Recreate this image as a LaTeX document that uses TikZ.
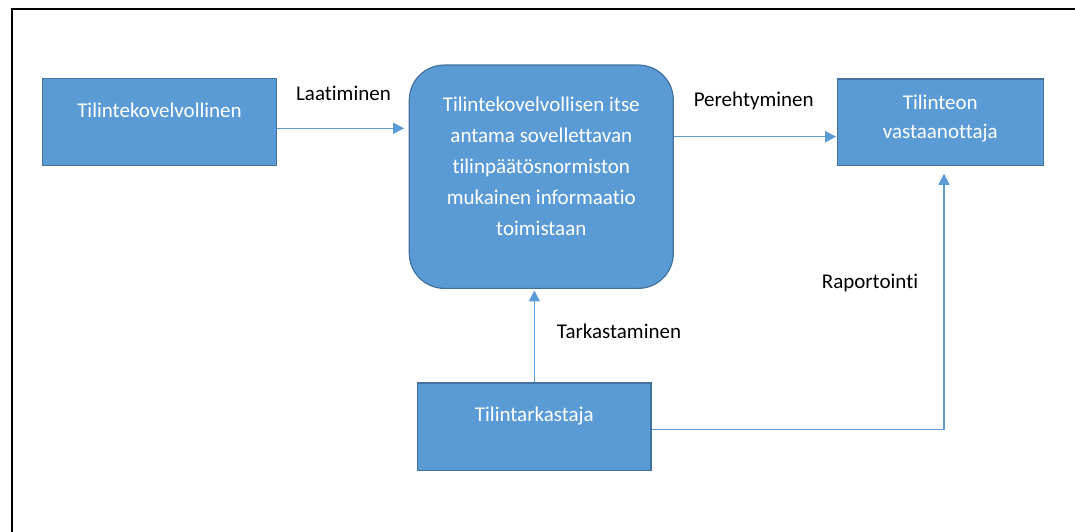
\documentclass[tikz,border=0pt]{standalone}
\usepackage{fontspec}
\setmainfont{Carlito}[Ligatures={NoCommon}]
\usetikzlibrary{arrows.meta}

\definecolor{boxfill}{HTML}{5B9BD5}
\definecolor{boxedge}{HTML}{41719C}
\definecolor{flow}{HTML}{5B9BD5}

% multi-line box text; baseline of the node text is the first line
\newcommand{\boxlines}[1]{\begin{tabular}[t]{@{}c@{}}#1\end{tabular}}

\begin{document}
\begin{tikzpicture}[x=1pt,y=-1pt,
  box/.style={draw=boxedge, fill=boxfill, line width=1.2pt, text=white,
              inner sep=0pt, font=\fontsize{21}{29}\selectfont},
  roundbox/.style={box, rounded corners=35pt, font=\fontsize{21}{31}\selectfont},
  flowline/.style={draw=flow, line width=1.5pt},
  arrow/.style={flowline, -{Triangle[length=11pt,width=11pt]}},
  tag/.style={font=\fontsize{21}{25}\selectfont, text=black, inner sep=0pt, anchor=base}
]
\useasboundingbox (0,0) rectangle (1075,532);

% outer frame (top and left edges)
\draw[line width=2pt, black, line join=miter] (11.5,532) -- (11.5,9) -- (1075,9);

% boxes
\node[box, minimum width=233.6pt, minimum height=87pt,
      text height=14pt, text depth=24pt] (duty) at (159.5,122.2) {Tilintekovelvollinen};
\node[roundbox, minimum width=264pt, minimum height=223.3pt,
      text height=14pt, text depth=144pt] (main) at (541.3,176.7)
  {\boxlines{Tilintekovelvollisen itse\\antama sovellettavan\\tilinpäätösnormiston\\mukainen informaatio\\toimistaan}};
\node[box, minimum width=206pt, minimum height=86.7pt,
      text height=14pt, text depth=40pt] (receiver) at (940.3,122.3)
  {\boxlines{Tilinteon\\vastaanottaja}};
\node[box, minimum width=233.3pt, minimum height=87.7pt,
      text height=14pt, text depth=24.3pt] (audit) at (534.35,426.85) {Tilintarkastaja};

% connectors
\coordinate (lineA) at (0,128.3);
\coordinate (lineB) at (0,136.7);
\coordinate (lineC) at (944,429.7);
\draw[arrow, shorten >=4.5pt] (duty.east |- lineA) -- (main.west |- lineA);
\draw[arrow, shorten >=0.5pt] (main.east |- lineB) -- (receiver.west |- lineB);
\draw[arrow, shorten >=1.5pt] (audit.north) -- (audit.north |- main.south);
\draw[arrow, shorten >=7.5pt] (audit.east |- lineC) -| (lineC |- receiver.south);

% connector labels
\node[tag] (lblA) at (343.5,100.7) {Laatiminen};
\node[tag] (lblB) at (753.7,106.8) {Perehtyminen};
\node[tag] (lblC) at (619,338.5) {Tarkastaminen};
\node[tag] (lblD) at (870,288.5) {Raportointi};
\end{tikzpicture}
\end{document}
